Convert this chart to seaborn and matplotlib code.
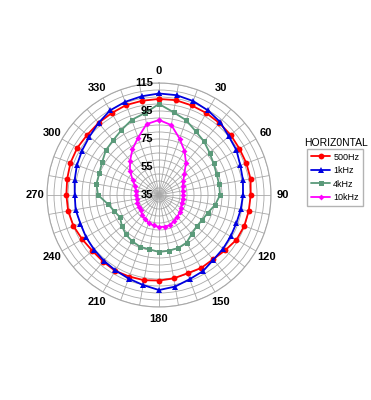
import numpy as np
import pandas as pd
import matplotlib
matplotlib.use('Agg')
import matplotlib.pyplot as plt
import seaborn as sns

# angles (degrees, clockwise from top) and levels
angles = list(range(0, 360, 10))

hz500 = [103.6, 103.8, 103.1, 102.6, 102.1, 101.8, 101.3, 101.4, 101.4, 100.5,
         100.1, 99.8, 98.9, 96.6, 95.0, 95.2, 94.5, 95.5, 96.1, 96.8,
         97.0, 97.6, 97.1, 97.1, 98.3, 100.0, 100.9, 101.2, 101.6, 102.3,
         102.4, 101.9, 102.2, 102.6, 103.4, 103.4]
khz1 = [107.5, 107.4, 106.4, 104.8, 103.0, 100.1, 98.9, 96.8, 95.9, 95.0,
        94.3, 93.8, 94.1, 94.7, 95.4, 97.8, 99.0, 101.4, 102.9, 100.3,
        98.5, 97.2, 96.3, 95.6, 95.2, 94.7, 95.5, 95.2, 96.2, 97.4,
        98.5, 99.9, 102.2, 104.8, 105.8, 106.6]
khz4 = [100.0, 95.0, 91.8, 87.5, 85.0, 82.1, 80.0, 78.8, 78.6, 78.6,
        75.7, 72.1, 70.7, 70.0, 71.4, 74.3, 75.3, 75.4, 75.7, 74.4,
        74.4, 73.2, 71.8, 69.6, 67.1, 68.9, 72.1, 78.6, 80.4, 80.4,
        81.9, 84.6, 86.0, 88.6, 92.1, 94.3]
khz10 = [88.6, 85.7, 77.9, 71.4, 65.0, 58.6, 55.0, 52.9, 52.1, 52.1,
         52.1, 52.1, 53.2, 54.3, 55.4, 56.4, 57.9, 57.9, 57.9, 57.1,
         56.4, 55.0, 53.6, 52.1, 51.8, 51.4, 51.1, 51.2, 51.8, 53.2,
         56.8, 62.1, 67.1, 72.9, 78.6, 86.4]

series_names = ['500Hz', '1kHz', '4kHz', '10kHz']
series_values = [hz500, khz1, khz4, khz10]
colors = ['#ff0000', '#0000e0', '#5b9a7a', '#ff00ff']
markers = ['o', '^', 's', 'D']
msizes = [4.2, 4.2, 3.6, 3]

angle_labels = [str(a) if a % 30 == 0 else '' for a in angles]
r_labels = [35, 55, 75, 95, 115]

sns.set_style('white')
plt.rcParams['font.family'] = ['Liberation Sans', 'DejaVu Sans']
plt.rcParams['text.color'] = 'black'
plt.rcParams['xtick.color'] = 'black'

fig = plt.figure(figsize=(3.71, 4.0), dpi=100)
ax = fig.add_axes([0.1267, 0.2325, 0.6038, 0.56], projection='polar')
ax.set_theta_zero_location('N')
ax.set_theta_direction(-1)

for name, vals, c, m, ms in zip(series_names, series_values, colors, markers, msizes):
    df = pd.DataFrame({'theta': np.deg2rad(angles + [360]),
                       'r': vals + [vals[0]]})
    sns.lineplot(data=df, x='theta', y='r', ax=ax, color=c, marker=m,
                 markersize=ms, markeredgewidth=0, linewidth=1.3,
                 label=name, sort=False, zorder=3)

ax.set_ylim(35, 115)
ax.set_yticks(np.arange(35, 116, 5))
ax.set_yticklabels([])
ax.set_xticks(np.deg2rad(angles))
ax.set_xticklabels(angle_labels, fontsize=8, fontweight='bold', color='black')
ax.tick_params(axis='x', pad=-2)
ax.set_xlabel('')
ax.set_ylabel('')
ax.grid(True, color='#a8a8a8', linewidth=0.6)
ax.spines['polar'].set_color('#a8a8a8')
ax.spines['polar'].set_linewidth(0.8)

for v in r_labels:
    ax.annotate(str(v), xy=(0, v), xytext=(-4, 0), textcoords='offset points',
                ha='right', va='center', fontsize=8, fontweight='bold',
                color='black', zorder=4)

handles, labels = ax.get_legend_handles_labels()
ax.get_legend().remove()
fig.text(336 / 371, 1 - 143 / 400, 'HORIZ0NTAL', ha='center', va='center',
         fontsize=7.5, color='black')
fig.legend(handles, labels, loc='upper left', bbox_to_anchor=(307 / 371, 1 - 149 / 400),
           fontsize=6.5, frameon=True, fancybox=False, edgecolor='#a0a0a0',
           handlelength=2.2, handletextpad=0.3, borderpad=0.4, labelspacing=0.5,
           borderaxespad=0)

fig.savefig('out.png', dpi=100)
